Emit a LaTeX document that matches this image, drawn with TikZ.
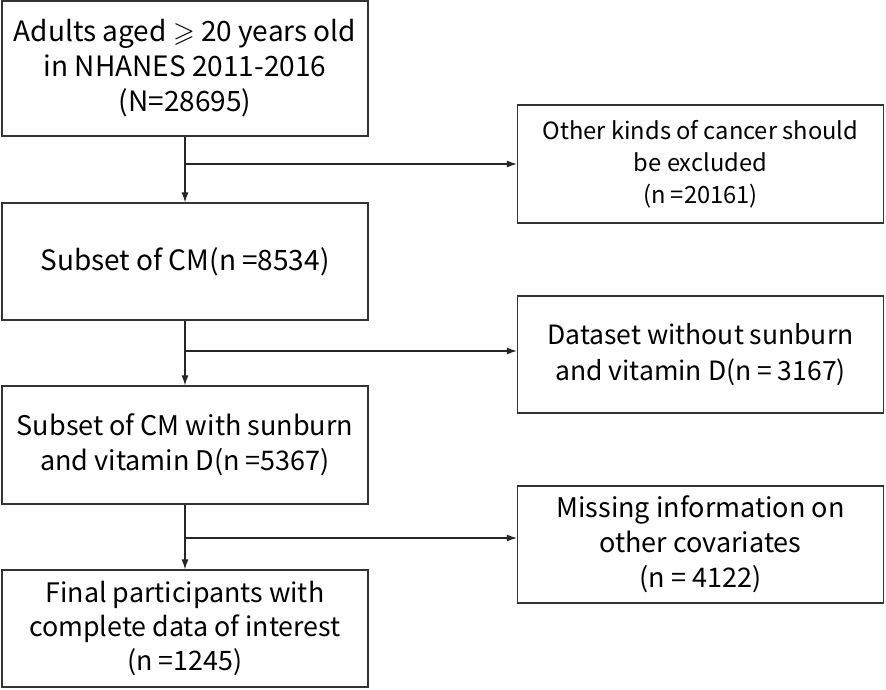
\documentclass[tikz,border=0pt]{standalone}
\usepackage{fontspec}
\usepackage{amssymb}
\setmainfont{Noto Sans CJK SC}
\usetikzlibrary{arrows.meta}
\tikzset{
	box/.style={draw=black!80, line width=1.3pt, rectangle, align=center, minimum width=366pt, inner sep=2pt},
	flow/.style={-{Latex[length=10pt,width=7pt]}, line width=1.1pt, draw=black!85},
}
\begin{document}
\begin{tikzpicture}[x=1pt, y=-1pt]
		\useasboundingbox (0,0) rectangle (886,689);
		\node[box, minimum height=135pt, font=\fontsize{28}{35}\selectfont] (1) at (185,68.5) {Adults aged $\geqslant$ 20 years old\\in NHANES 2011-2016\\(N=28695)};
		\node[box, minimum height=117pt, font=\fontsize{28}{35}\selectfont] (2) at (185,261.5) {Subset of CM(n =8534)};
		\node[box, minimum height=118pt, font=\fontsize{27}{35}\selectfont] (3) at (185,445) {Subset of CM with sunburn\\and vitamin D(n =5367)};
		\node[box, minimum height=117pt, font=\fontsize{26.8}{34}\selectfont] (4) at (185,628.5) {Final participants with\\complete data of interest\\(n =1245)};
		\node[box, minimum height=118pt, font=\fontsize{23.7}{32}\selectfont] (5) at (700.5,164) {Other kinds of cancer should\\be excluded\\(n =20161)};
		\node[box, minimum height=117pt, font=\fontsize{26.5}{36}\selectfont] (6) at (700.5,354.5) {Dataset without sunburn\\and vitamin D(n = 3167)};
		\node[box, minimum height=117pt, font=\fontsize{27}{35}\selectfont] (7) at (700.5,544.5) {Missing information on\\other covariates\\(n = 4122)};
		
		\coordinate (b1) at (185,164);
		\coordinate (b2) at (185,351);
		\coordinate (b3) at (185,538);
		
		\draw[flow] (1) to node {} (2);
		\draw[flow] (2) to node {} (3);
		\draw[flow] (3) to node {} (4);
		\draw[flow] (b1) to node {} (b1 -| 5.west);
		\draw[flow] (b2) to node {} (b2 -| 6.west);
		\draw[flow] (b3) to node {} (b3 -| 7.west);
		
	\end{tikzpicture}
\end{document}
